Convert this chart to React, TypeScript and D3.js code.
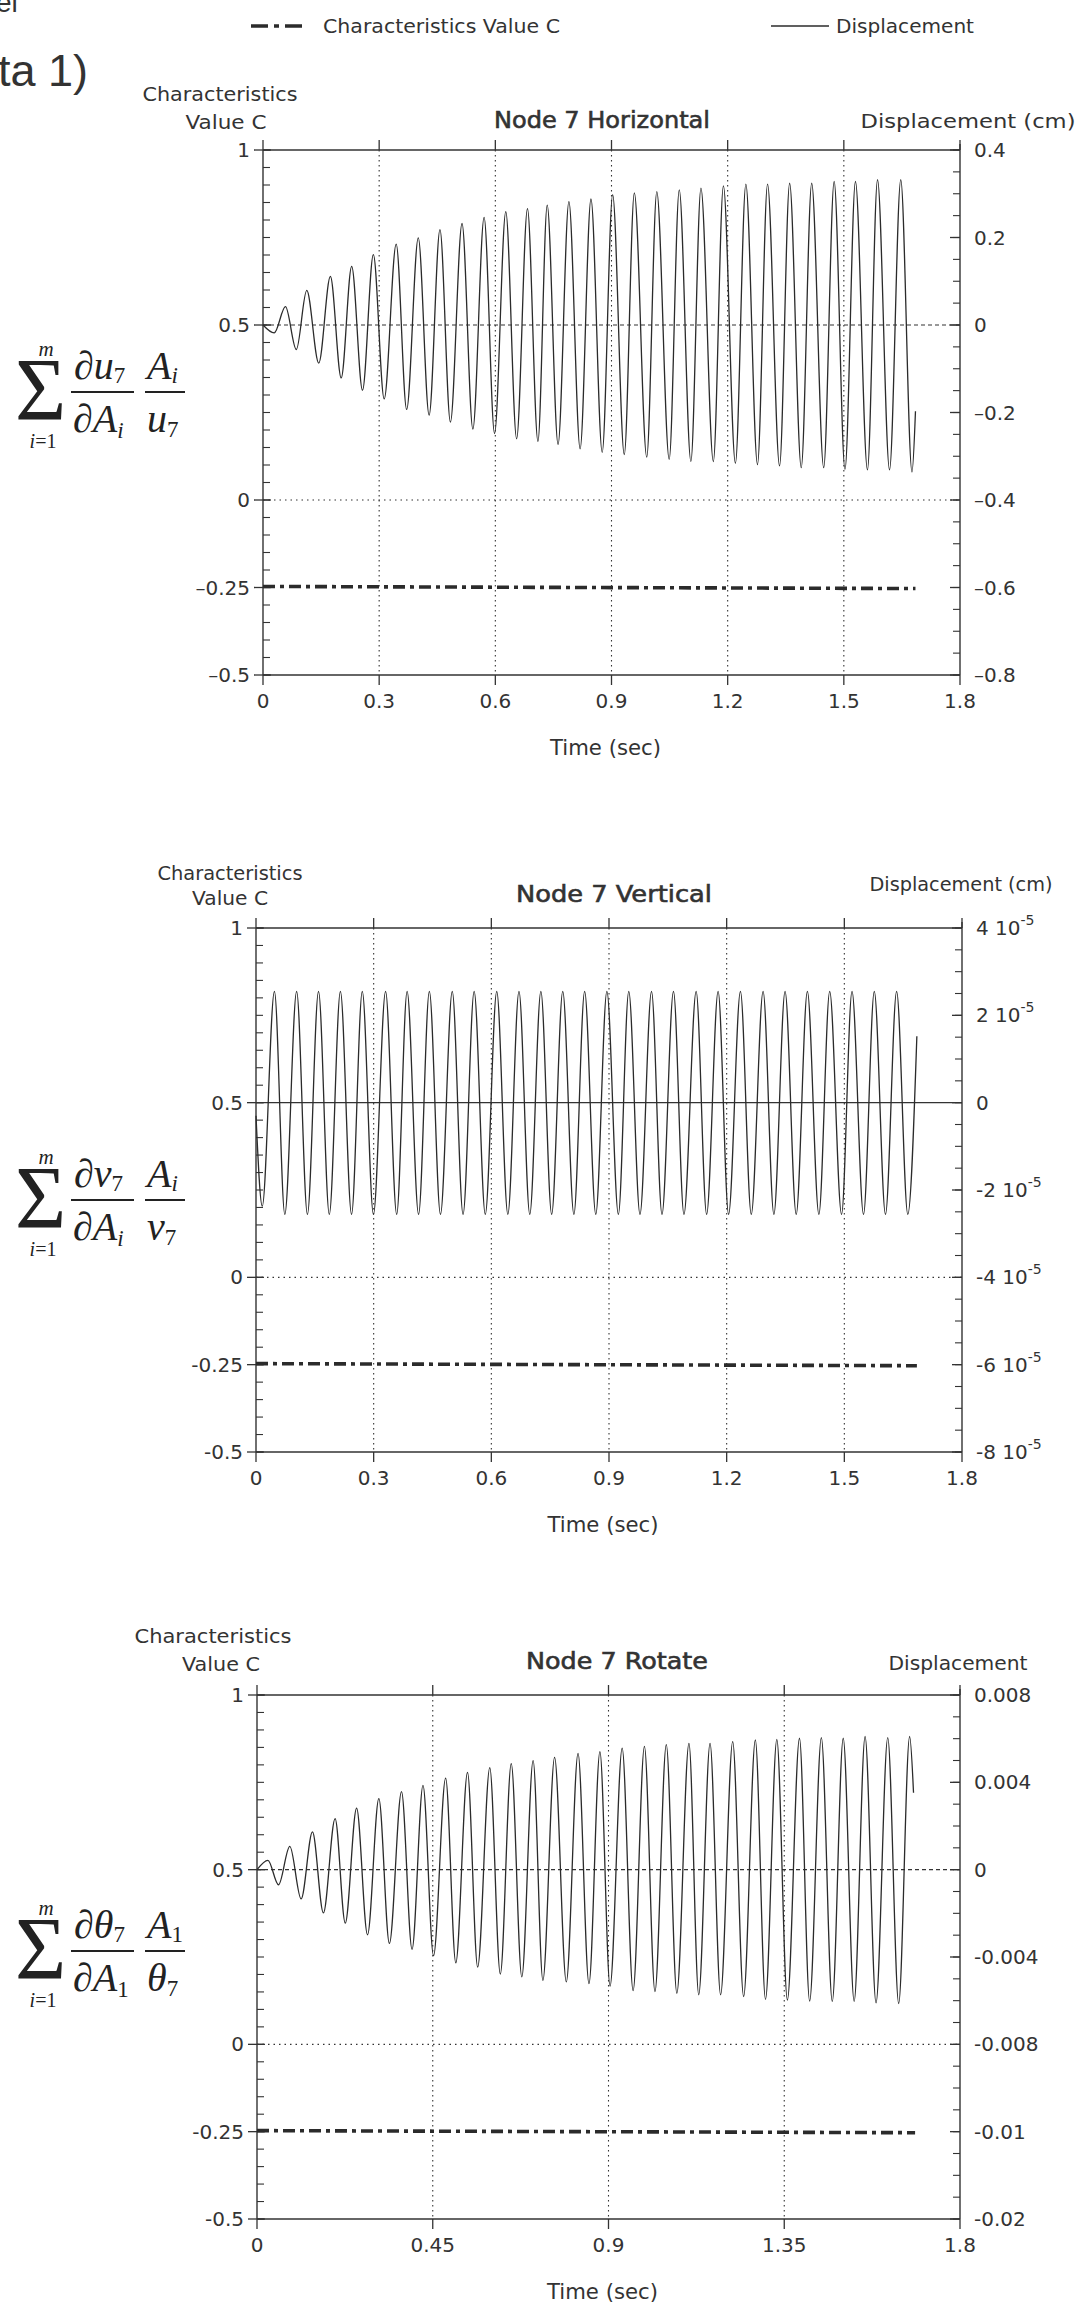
import React from 'react';
import * as d3 from 'd3';

const FONT = "'DejaVu Sans', Verdana, sans-serif";
const SERIF = "'Liberation Serif', 'Times New Roman', serif";
const INK = '#333333';

// ---------------- data ----------------
// Node 7 Horizontal : displacement (cm) extrema vs time (sec)
const horizTime = [0, 0.029, 0.058, 0.086, 0.113, 0.144, 0.174, 0.202, 0.229, 0.257, 0.285, 0.313, 0.344, 0.371, 0.401, 0.429, 0.457, 0.484, 0.514, 0.542, 0.571, 0.598, 0.627, 0.655, 0.683, 0.710, 0.734, 0.762, 0.790, 0.819, 0.847, 0.876, 0.903, 0.933, 0.959, 0.991, 1.017, 1.049, 1.075, 1.105, 1.131, 1.163, 1.189, 1.220, 1.247, 1.277, 1.303, 1.334, 1.360, 1.390, 1.417, 1.448, 1.475, 1.503, 1.530, 1.561, 1.587, 1.618, 1.647, 1.676, 1.685];
const horizDisp = [0, -0.018, 0.042, -0.056, 0.079, -0.087, 0.111, -0.121, 0.134, -0.149, 0.161, -0.169, 0.185, -0.193, 0.199, -0.206, 0.218, -0.222, 0.232, -0.238, 0.246, -0.248, 0.259, -0.260, 0.266, -0.266, 0.274, -0.273, 0.282, -0.283, 0.288, -0.291, 0.298, -0.296, 0.302, -0.302, 0.305, -0.307, 0.309, -0.312, 0.313, -0.312, 0.318, -0.316, 0.322, -0.319, 0.322, -0.322, 0.324, -0.326, 0.324, -0.326, 0.328, -0.330, 0.328, -0.331, 0.332, -0.331, 0.332, -0.336, -0.197];

// Node 7 Vertical : displacement (cm)
const vertTime = [0, 0.016, 0.047, 0.0735, 0.1036, 0.1311, 0.1594, 0.1869, 0.2152, 0.2436, 0.2710, 0.2994, 0.3304, 0.3587, 0.3853, 0.4145, 0.4420, 0.4703, 0.5004, 0.5279, 0.5562, 0.5846, 0.6138, 0.6421, 0.6705, 0.6980, 0.7263, 0.7538, 0.7821, 0.8105, 0.8379, 0.8663, 0.8946, 0.9239, 0.9504, 0.9790, 1.0084, 1.0351, 1.0644, 1.0911, 1.1222, 1.1489, 1.1782, 1.2049, 1.2351, 1.2627, 1.2929, 1.3204, 1.3489, 1.3773, 1.4058, 1.4351, 1.4627, 1.4929, 1.5196, 1.5489, 1.5764, 1.6049, 1.6333, 1.6618, 1.6849];
const vertDisp = [-0.3e-5, -2.37e-5, 2.55e-5, -2.56e-5, 2.55e-5, -2.56e-5, 2.55e-5, -2.56e-5, 2.55e-5, -2.56e-5, 2.55e-5, -2.56e-5, 2.55e-5, -2.56e-5, 2.55e-5, -2.56e-5, 2.55e-5, -2.56e-5, 2.55e-5, -2.56e-5, 2.55e-5, -2.56e-5, 2.55e-5, -2.56e-5, 2.55e-5, -2.56e-5, 2.55e-5, -2.56e-5, 2.55e-5, -2.56e-5, 2.55e-5, -2.56e-5, 2.55e-5, -2.56e-5, 2.55e-5, -2.56e-5, 2.55e-5, -2.56e-5, 2.55e-5, -2.56e-5, 2.55e-5, -2.56e-5, 2.55e-5, -2.56e-5, 2.55e-5, -2.56e-5, 2.55e-5, -2.56e-5, 2.55e-5, -2.56e-5, 2.55e-5, -2.56e-5, 2.55e-5, -2.56e-5, 2.55e-5, -2.56e-5, 2.55e-5, -2.56e-5, 2.55e-5, -2.56e-5, 1.52e-5];

// Node 7 Rotate : displacement
const rotTime = [0, 0.028, 0.055, 0.084, 0.113, 0.142, 0.170, 0.200, 0.226, 0.255, 0.283, 0.312, 0.339, 0.370, 0.397, 0.425, 0.452, 0.483, 0.509, 0.539, 0.565, 0.596, 0.623, 0.651, 0.678, 0.707, 0.732, 0.762, 0.792, 0.822, 0.850, 0.878, 0.904, 0.935, 0.963, 0.992, 1.019, 1.048, 1.075, 1.106, 1.131, 1.160, 1.187, 1.218, 1.246, 1.276, 1.302, 1.331, 1.358, 1.389, 1.415, 1.445, 1.473, 1.501, 1.529, 1.557, 1.585, 1.615, 1.643, 1.671, 1.681];
const rotDisp = [0, 0.00043, -0.00069, 0.00107, -0.00134, 0.00173, -0.00198, 0.00234, -0.00245, 0.00282, -0.00298, 0.00325, -0.00338, 0.00357, -0.00365, 0.00386, -0.00394, 0.00419, -0.00427, 0.00446, -0.00446, 0.00467, -0.00478, 0.00486, -0.00491, 0.00499, -0.00507, 0.00514, -0.00514, 0.00533, -0.00522, 0.00541, -0.00533, 0.00557, -0.00554, 0.00565, -0.00558, 0.00573, -0.00566, 0.00578, -0.00573, 0.00578, -0.00573, 0.00586, -0.00581, 0.00594, -0.00594, 0.00597, -0.00597, 0.00602, -0.00602, 0.00605, -0.00603, 0.00602, -0.00603, 0.00610, -0.00610, 0.00605, -0.00613, 0.00610, 0.00352];

// Characteristics value C (left axis)
const charTime = [0, 1.685];
const horizC = [-0.247, -0.253];
const vertC = [-0.247, -0.253];
const rotC = [-0.247, -0.253];

// axes
const leftTicks = [1, 0.5, 0, -0.25, -0.5];
const horizLeftLabels = ['1', '0.5', '0', '\u20130.25', '\u20130.5'];
const otherLeftLabels = ['1', '0.5', '0', '-0.25', '-0.5'];
const xTicksA = [0, 0.3, 0.6, 0.9, 1.2, 1.5, 1.8];
const xLabelsA = ['0', '0.3', '0.6', '0.9', '1.2', '1.5', '1.8'];
const xTicksB = [0, 0.45, 0.9, 1.35, 1.8];
const xLabelsB = ['0', '0.45', '0.9', '1.35', '1.8'];
const horizRightTicks = [0.4, 0.2, 0, -0.2, -0.4, -0.6, -0.8];
const horizRightLabels = ['0.4', '0.2', '0', '\u20130.2', '\u20130.4', '\u20130.6', '\u20130.8'];
const vertRightTicks = [4e-5, 2e-5, 0, -2e-5, -4e-5, -6e-5, -8e-5];
const vertRightLabels = ['4 10', '2 10', '0', '-2  10', '-4  10', '-6  10', '-8  10'];
const rotRightTicks = [0.008, 0.004, 0, -0.004, -0.008, -0.012, -0.016];
const rotRightLabels = ['0.008', '0.004', '0', '-0.004', '-0.008', '-0.01', '-0.02'];

type Head = { x: number; y: number; w: number; s: string };

type PanelProps = {
  left: number; right: number; top: number; bottom: number;
  time: number[]; disp: number[]; cValue: number[];
  rightDomain: [number, number];
  rightTicks: number[]; rightLabels: string[]; rightSup?: boolean;
  leftLabels: string[];
  xTicks: number[]; xLabels: string[];
  midSolid: boolean;
  heads: Head[];
  title: Head;
};

function Panel(p: PanelProps) {
  const x = d3.scaleLinear().domain([0, 1.8]).range([p.left, p.right]);
  const yL = d3.scaleLinear().domain([-0.5, 1]).range([p.bottom, p.top]);
  const yR = d3.scaleLinear().domain(p.rightDomain).range([p.bottom, p.top]);
  const idx = d3.range(p.time.length);
  const dispPath = d3.line<number>()
    .x(i => x(p.time[i]))
    .y(i => yR(p.disp[i]))
    .curve(d3.curveMonotoneX)(idx) || '';
  const cPath = d3.line<number>()
    .x(i => x(charTime[i]))
    .y(i => yL(p.cValue[i]))(d3.range(charTime.length)) || '';
  const leftMinor = d3.range(0, 31).map(k => -0.5 + k * 0.05);
  const [r0, r1] = p.rightDomain;
  const rightMinor = d3.range(0, 25).map(k => r0 + ((r1 - r0) * k) / 24);
  const midX = (p.left + p.right) / 2;
  return (
    <g>
      {/* vertical dotted grid */}
      {p.xTicks.slice(1, -1).map(v => (
        <line key={'g' + v} x1={x(v)} x2={x(v)} y1={p.top} y2={p.bottom}
          stroke={INK} strokeWidth={1.1} strokeDasharray="1.5,3.5" />
      ))}
      <line x1={p.left} x2={p.right} y1={yL(0)} y2={yL(0)} stroke={INK} strokeWidth={1.1} strokeDasharray="1.5,4" />
      <line x1={p.left} x2={p.right} y1={yL(0.5)} y2={yL(0.5)} stroke={INK}
        strokeWidth={p.midSolid ? 1.3 : 1.1} strokeDasharray={p.midSolid ? undefined : '4,3'} />
      {/* frame */}
      <line x1={p.left} x2={p.right} y1={p.top} y2={p.top} stroke={INK} strokeWidth={1.6} />
      <line x1={p.left} x2={p.right} y1={p.bottom} y2={p.bottom} stroke={INK} strokeWidth={1.6} />
      <line x1={p.left} x2={p.left} y1={p.top} y2={p.bottom} stroke={INK} strokeWidth={1.4} />
      <line x1={p.right} x2={p.right} y1={p.top - 6} y2={p.bottom} stroke={INK} strokeWidth={1.4} />
      {/* x ticks top & bottom */}
      {p.xTicks.map(v => (
        <g key={'xt' + v}>
          <line x1={x(v)} x2={x(v)} y1={p.bottom} y2={p.bottom + 10} stroke={INK} strokeWidth={1.3} />
          <line x1={x(v)} x2={x(v)} y1={p.top - 10} y2={p.top} stroke={INK} strokeWidth={1.3} />
        </g>
      ))}
      {/* left ticks */}
      {leftMinor.map(v => (
        <line key={'lm' + v} x1={p.left} x2={p.left + 7} y1={yL(v)} y2={yL(v)} stroke={INK} strokeWidth={1.1} />
      ))}
      {leftTicks.map(v => (
        <line key={'lM' + v} x1={p.left - 9} x2={p.left + 8} y1={yL(v)} y2={yL(v)} stroke={INK} strokeWidth={1.3} />
      ))}
      {/* right ticks */}
      {rightMinor.map(v => (
        <line key={'rm' + v} x1={p.right - 7} x2={p.right} y1={yR(v)} y2={yR(v)} stroke={INK} strokeWidth={1.1} />
      ))}
      {p.rightTicks.map(v => (
        <line key={'rM' + v} x1={p.right - 10} x2={p.right} y1={yR(v)} y2={yR(v)} stroke={INK} strokeWidth={1.3} />
      ))}
      {/* series */}
      <path d={dispPath} fill="none" stroke="#2b2b2b" strokeWidth={1.3} strokeLinejoin="round" />
      <path d={cPath} fill="none" stroke="#2b2b2b" strokeWidth={3.6} strokeDasharray="12,5,4,5" />
      {/* labels */}
      <g fontFamily={FONT} fill={INK} fontSize={20}>
        {leftTicks.map((v, i) => (
          <text key={'ll' + v} x={p.left - 13} y={yL(v) + 7} textAnchor="end">{p.leftLabels[i]}</text>
        ))}
        {p.rightTicks.map((v, i) => (
          <text key={'rl' + v} x={p.right + 14} y={yR(v) + 7}>
            {p.rightLabels[i]}
            {p.rightSup && p.rightLabels[i] !== '0' ? <tspan fontSize={14} dy={-10}>-5</tspan> : null}
          </text>
        ))}
        {p.xTicks.map((v, i) => (
          <text key={'xl' + v} x={x(v)} y={p.bottom + 33} textAnchor="middle">{p.xLabels[i]}</text>
        ))}
        <text x={midX - 6} y={p.bottom + 80} textAnchor="middle" fontSize={21}
          textLength={111} lengthAdjust="spacingAndGlyphs">Time (sec)</text>
        {p.heads.map(h => (
          <text key={h.s + h.y} x={h.x} y={h.y} textAnchor="middle" textLength={h.w} lengthAdjust="spacingAndGlyphs">{h.s}</text>
        ))}
        <text x={p.title.x} y={p.title.y} textAnchor="middle" fontSize={23}
          stroke={INK} strokeWidth={0.6}
          textLength={p.title.w} lengthAdjust="spacingAndGlyphs">{p.title.s}</text>
      </g>
    </g>
  );
}

type FormulaProps = { by: number; n1: string; d1s: string; n2s: string; d2: string };

function Formula({ by, n1, d1s, n2s, d2 }: FormulaProps) {
  return (
    <g fontFamily={SERIF} fill="#222">
      <text x={15} y={by + 27} fontSize={88}>Σ</text>
      <text x={46} y={by - 36} fontSize={21} fontStyle="italic" textAnchor="middle">m</text>
      <text x={43} y={by + 56} fontSize={20} textAnchor="middle"><tspan fontStyle="italic">i</tspan>=1</text>
      <text x={74} y={by - 13} fontSize={40} fontStyle="italic">
        ∂{n1}<tspan fontSize={23} dy={4} fontStyle="normal">7</tspan>
      </text>
      <line x1={71} x2={134} y1={by} y2={by} stroke="#222" strokeWidth={2.2} />
      <text x={73} y={by + 40} fontSize={40} fontStyle="italic">
        ∂A<tspan fontSize={23} dy={6} fontStyle={d1s === '1' ? 'normal' : 'italic'}>{d1s}</tspan>
      </text>
      <text x={147} y={by - 13} fontSize={40} fontStyle="italic">
        A<tspan fontSize={23} dy={4} fontStyle={n2s === '1' ? 'normal' : 'italic'}>{n2s}</tspan>
      </text>
      <line x1={145} x2={185} y1={by} y2={by} stroke="#222" strokeWidth={2.2} />
      <text x={147} y={by + 40} fontSize={40} fontStyle="italic">
        {d2}<tspan fontSize={23} dy={5} fontStyle="normal">7</tspan>
      </text>
    </g>
  );
}

export default function App() {
  return (
    <svg width={1079} height={2303} viewBox="0 0 1079 2303"
      style={{ position: 'absolute', left: 0, top: 0, background: '#fff' }}>
      <rect x={0} y={0} width={1079} height={2303} fill="#fff" />
      {/* cut-off page text */}
      <g fontFamily="'Liberation Sans', Arial, sans-serif" fill="#333">
        <text x={-4} y={12} fontSize={28}>el</text>
        <text x={-2} y={86} fontSize={44} textLength={90} lengthAdjust="spacingAndGlyphs">ta 1)</text>
      </g>
      {/* legend */}
      <g fontFamily={FONT} fill={INK} fontSize={20}>
        <line x1={251} x2={306} y1={26} y2={26} stroke="#2b2b2b" strokeWidth={3.6} strokeDasharray="17,6,5,6,17" />
        <text x={323} y={33} textLength={237} lengthAdjust="spacingAndGlyphs">Characteristics Value C</text>
        <line x1={771} x2={829} y1={26} y2={26} stroke="#2b2b2b" strokeWidth={1.3} />
        <text x={836} y={33} textLength={138} lengthAdjust="spacingAndGlyphs">Displacement</text>
      </g>

      <Panel left={263} right={960} top={150} bottom={675}
        time={horizTime} disp={horizDisp} cValue={horizC}
        rightDomain={[-0.8, 0.4]} rightTicks={horizRightTicks} rightLabels={horizRightLabels}
        leftLabels={horizLeftLabels} xTicks={xTicksA} xLabels={xLabelsA} midSolid={false}
        heads={[
          { x: 220, y: 101, w: 155, s: 'Characteristics' },
          { x: 226, y: 129, w: 81, s: 'Value C' },
          { x: 968, y: 128, w: 215, s: 'Displacement (cm)' },
        ]}
        title={{ x: 602, y: 128, w: 216, s: 'Node 7 Horizontal' }} />
      <Formula by={392} n1="u" d1s="i" n2s="i" d2="u" />

      <Panel left={256} right={962} top={928} bottom={1452}
        time={vertTime} disp={vertDisp} cValue={vertC}
        rightDomain={[-8e-5, 4e-5]} rightTicks={vertRightTicks} rightLabels={vertRightLabels} rightSup
        leftLabels={otherLeftLabels} xTicks={xTicksA} xLabels={xLabelsA} midSolid
        heads={[
          { x: 230, y: 880, w: 145, s: 'Characteristics' },
          { x: 230, y: 905, w: 76, s: 'Value C' },
          { x: 961, y: 891, w: 183, s: 'Displacement (cm)' },
        ]}
        title={{ x: 614, y: 902, w: 196, s: 'Node 7 Vertical' }} />
      <Formula by={1200} n1="v" d1s="i" n2s="i" d2="v" />

      <Panel left={257} right={960} top={1695} bottom={2219}
        time={rotTime} disp={rotDisp} cValue={rotC}
        rightDomain={[-0.016, 0.008]} rightTicks={rotRightTicks} rightLabels={rotRightLabels}
        leftLabels={otherLeftLabels} xTicks={xTicksB} xLabels={xLabelsB} midSolid={false}
        heads={[
          { x: 213, y: 1643, w: 157, s: 'Characteristics' },
          { x: 221, y: 1671, w: 78, s: 'Value C' },
          { x: 958, y: 1670, w: 139, s: 'Displacement' },
        ]}
        title={{ x: 617, y: 1669, w: 182, s: 'Node 7 Rotate' }} />
      <Formula by={1951} n1="θ" d1s="1" n2s="1" d2="θ" />
    </svg>
  );
}
